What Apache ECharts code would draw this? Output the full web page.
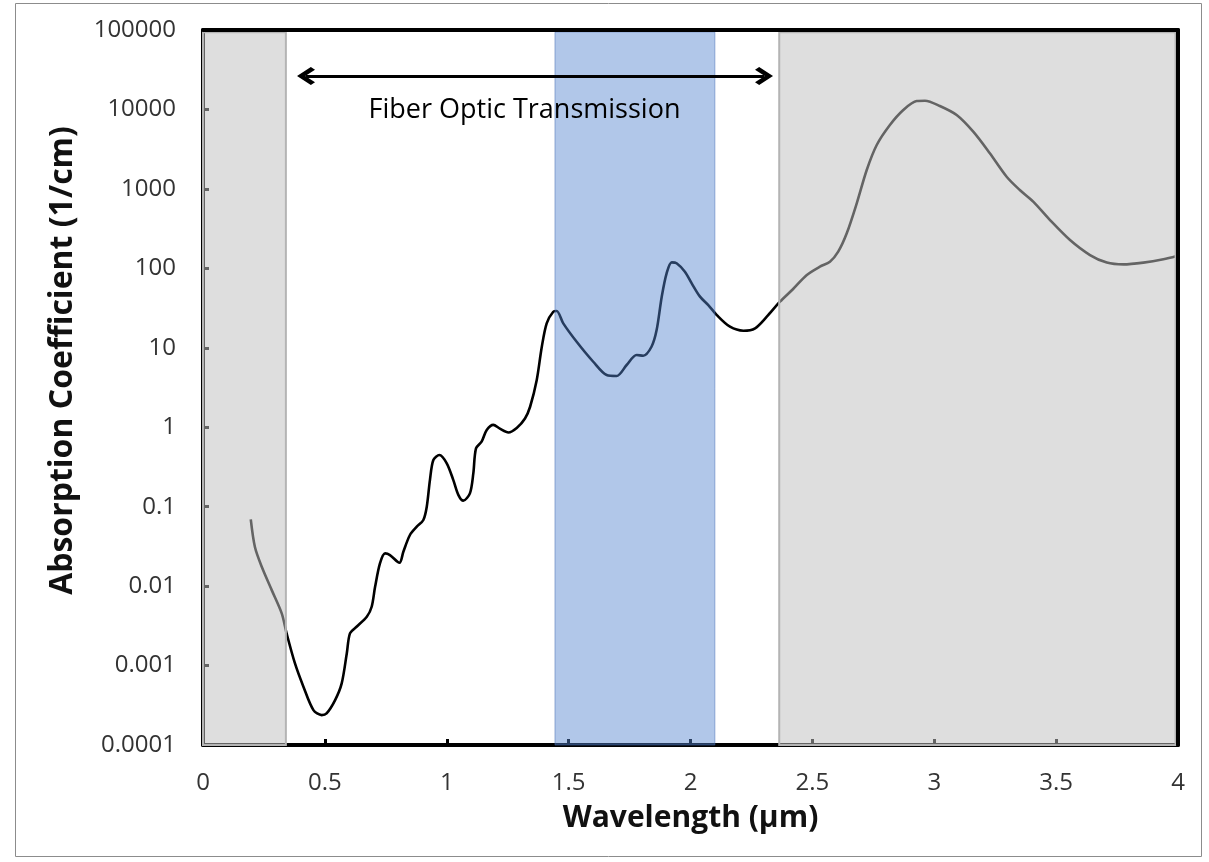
<!DOCTYPE html>
<html>
<head>
<meta charset="utf-8">
<script src="https://cdn.jsdelivr.net/npm/echarts@6/dist/echarts.min.js"></script>
<style>html,body{margin:0;padding:0;background:#fff;}#c{width:1209px;height:862px;}</style>
</head>
<body>
<div id="c"></div>
<script>
// ---- data ----
const wavelength = [0.196,0.213,0.241,0.282,0.323,0.343,0.377,0.412,0.453,0.487,0.507,0.542,0.569,0.590,0.603,0.630,0.672,0.692,0.706,0.726,0.747,0.767,0.806,0.822,0.849,0.877,0.904,0.918,0.931,0.945,0.970,1.000,1.027,1.048,1.068,1.095,1.109,1.120,1.143,1.164,1.191,1.218,1.253,1.287,1.321,1.342,1.369,1.390,1.410,1.437,1.451,1.478,1.533,1.601,1.656,1.697,1.738,1.779,1.806,1.840,1.861,1.882,1.902,1.923,1.943,1.977,2.005,2.039,2.073,2.108,2.162,2.217,2.265,2.313,2.367,2.421,2.476,2.531,2.572,2.606,2.641,2.682,2.723,2.764,2.818,2.873,2.928,2.962,3.023,3.092,3.160,3.228,3.297,3.351,3.406,3.475,3.557,3.639,3.708,3.776,3.858,3.940,3.995];
const absorption = [0.069,0.031,0.0175,0.0089,0.00454,0.00254,0.00107,0.000542,0.000275,0.000238,0.00025,0.000368,0.000597,0.00143,0.00254,0.00308,0.00412,0.0055,0.0098,0.0193,0.0258,0.0246,0.0197,0.0271,0.044,0.0559,0.068,0.1,0.216,0.386,0.447,0.351,0.216,0.14,0.119,0.147,0.262,0.542,0.657,0.923,1.07,0.96,0.86,0.98,1.29,1.81,3.9,10.3,20.3,28.4,29,20.3,11.9,6.67,4.54,4.41,6.07,8.11,7.94,10.3,16.7,44,86.5,119,116,90.7,64.7,44,34.5,25.8,18.4,16.4,17.6,24.6,38,55,82,105,121,162,276,658,1729,3570,6370,9840,12770,12870,11050,8510,5250,2810,1423,968,690,405,227,147,118,112,118,130,143];
const yTickLabels = ['0.0001','0.001','0.01','0.1','1','10','100','1000','10000','100000'];
const greyRegions = [[0, 0.34], [2.364, 3.99]];
const blueRegion = [1.444, 2.10];
const regionYRange = [0.00009, 94000];
const arrowX = [0.4226, 2.3016];
const arrowY = 26400;
const annotationText = 'Fiber Optic Transmission';
const annotationPos = [1.319, 9700];

const FONT = 'Open Sans';
const chart = echarts.init(document.getElementById('c'), null, {renderer: 'canvas'});
const lineData = wavelength.map((x, i) => [x, absorption[i]]);
const greyStyle = {color: 'rgba(192,192,192,0.52)', borderColor: '#b4b4b4', borderWidth: 2};
const blueStyle = {color: 'rgba(85,133,208,0.46)', borderColor: 'rgba(70,110,180,0.5)', borderWidth: 1};
const areas = greyRegions.map(r => [
  {xAxis: r[0], yAxis: regionYRange[0], itemStyle: greyStyle},
  {xAxis: r[1], yAxis: regionYRange[1]}
]);
areas.push([
  {xAxis: blueRegion[0], yAxis: regionYRange[0], itemStyle: blueStyle},
  {xAxis: blueRegion[1], yAxis: regionYRange[1]}
]);

const chevron = 'path://M0,10 L10,0 L20,10 L17,13 L10,6 L3,13 Z';

chart.setOption({
  animation: false,
  graphic: [{type: 'rect', shape: {x: 15.5, y: 3.5, width: 1186, height: 853}, style: {fill: 'none', stroke: '#8c8c8c', lineWidth: 1}, z: -10}],
  grid: {left: 203, right: 31, top: 30, bottom: 117},
  xAxis: [{
    type: 'value', min: 0, max: 4, interval: 0.5,
    name: 'Wavelength (µm)', nameLocation: 'middle', nameGap: 58,
    nameTextStyle: {fontFamily: FONT, fontSize: 30, fontWeight: 'bold', color: '#111'},
    axisLine: {show: true, onZero: false, lineStyle: {color: '#000', width: 4}},
    axisTick: {show: true, inside: true, length: 6, lineStyle: {color: '#000', width: 3}},
    axisLabel: {margin: 26, fontFamily: FONT, fontSize: 24, color: '#333'},
    splitLine: {show: false}, z: 0
  }, {
    type: 'value', min: 0, max: 4, position: 'top',
    axisLine: {show: true, onZero: false, lineStyle: {color: '#000', width: 4}},
    axisTick: {show: false}, axisLabel: {show: false}, splitLine: {show: false}, z: 10
  }],
  yAxis: [{
    type: 'log', logBase: 10, min: 0.0001, max: 100000, splitNumber: 9,
    name: 'Absorption Coefficient (1/cm)', nameLocation: 'middle', nameGap: 124, nameRotate: 90,
    nameTextStyle: {fontFamily: FONT, fontSize: 32, fontWeight: 'bold', color: '#111', padding: [0, 0, 0, 54]},
    axisLine: {show: true, onZero: false, lineStyle: {color: '#000', width: 4}},
    axisTick: {show: true, inside: true, length: 6, lineStyle: {color: '#000', width: 3}},
    axisLabel: {margin: 27, fontFamily: FONT, fontSize: 24, color: '#333',
      formatter: v => yTickLabels[Math.round(Math.log10(v)) + 4]},
    splitLine: {show: false}, z: 0
  }, {
    type: 'log', logBase: 10, min: 0.0001, max: 100000, position: 'right',
    axisLine: {show: true, onZero: false, lineStyle: {color: '#000', width: 4}},
    axisTick: {show: false}, axisLabel: {show: false}, splitLine: {show: false}, z: 10
  }],
  series: [{
    type: 'line', data: lineData, smooth: 0.3, showSymbol: false, symbol: 'none',
    lineStyle: {color: '#000', width: 2.6}, z: 2, silent: true
  }, {
    type: 'line', data: [], z: 4, silent: true, clip: false,
    markArea: {silent: true, z: 4, data: areas}
  }, {
    type: 'line', data: [], z: 12, silent: true, clip: false,
    markLine: {
      silent: true, z: 12, symbol: [chevron, chevron], symbolSize: [18, 18],
      lineStyle: {color: '#000', width: 3, type: 'solid'},
      label: {show: false},
      data: [[{coord: [arrowX[0], arrowY]}, {coord: [arrowX[1], arrowY]}]]
    }
  }, {
    type: 'scatter', data: [annotationPos], symbolSize: 0, z: 12, silent: true,
    itemStyle: {color: '#000', opacity: 1},
    label: {show: true, position: 'inside', formatter: annotationText, fontFamily: FONT, fontSize: 27, color: '#000', opacity: 1}
  }]
});
</script>
</body>
</html>
